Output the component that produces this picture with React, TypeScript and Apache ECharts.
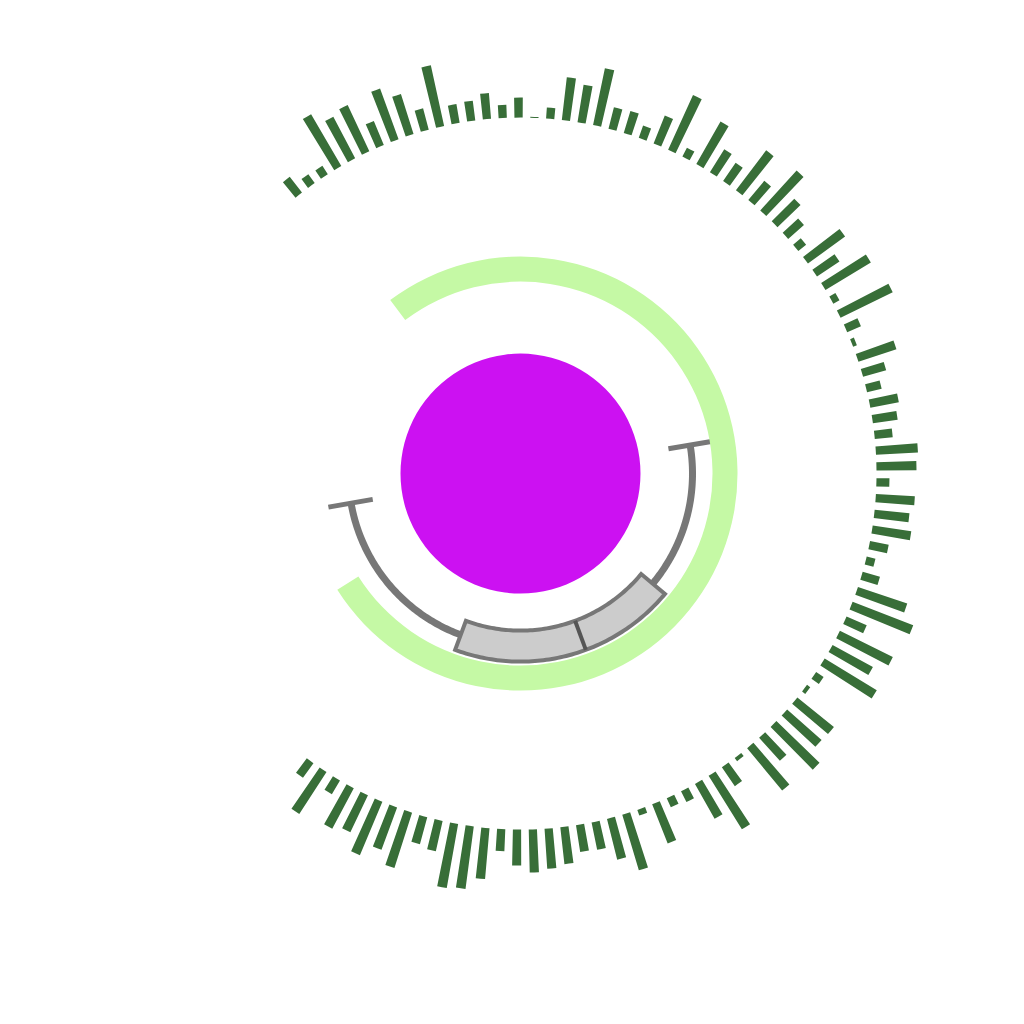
import { useEffect, useRef } from "react";
import * as echarts from "echarts";

// Outer ring: radial bar lengths (clockwise from the top-left start)
const barValues = [
  20, 11, 10, 60, 47, 51, 26, 54, 42, 22,
  62, 19, 20, 26, 13, 20, 1, 11, 43, 38,
  58, 22, 23, 13, 30, 60, 10, 49, 27, 22,
  50, 25, 54, 32, 21, 10, 46, 27, 53, 7,
  58, 15, 4, 40, 24, 15, 29, 25, 18, 42,
  40, 13, 39, 35, 39, 19, 9, 18, 52, 65,
  22, 59, 46, 61, 9, 4, 47, 46, 60, 31,
  55, 4, 23, 63, 40, 12, 10, 42, 6, 58,
  42, 28, 27, 37, 40, 43, 36, 22, 51, 63,
  65, 31, 28, 58, 45, 58, 41, 46, 16, 50,
  18,
];
const barCategories = barValues.map((_, i) => String(i + 1));

// Middle ring: progress arc value (0-100 scale)
const arcCategories = ["arc"];
const arcValues = [76.25];

// Box plot on the same angular scale: [min, Q1, median, Q3, max]
const boxStats = [32.6, 46.3, 54.6, 65.9, 82.5];

// Core disc
const coreNames = ["core"];
const coreValues = [1];

export default function App() {
  const ref = useRef<HTMLDivElement>(null);

  useEffect(() => {
    const chart = echarts.init(ref.current!, null, { renderer: "svg" });
    const CENTER = [520.5, 473.6];
    const hiddenAxis = {
      show: false,
      axisLine: { show: false },
      axisTick: { show: false },
      axisLabel: { show: false },
      splitLine: { show: false },
      splitArea: { show: false },
    };
    const grey = "#777777";

    const renderBox = (_params: any, api: any) => {
      const lo = api.value(0);
      const q1 = api.value(1);
      const med = api.value(2);
      const q3 = api.value(3);
      const hi = api.value(4);
      const R_MID = 22, R_IN = 7, R_OUT = 38, CAP_IN = 0, CAP_OUT = 45;
      const arc = (r: number, a0: number, a1: number) => {
        const pts: number[][] = [];
        const n = 80;
        for (let i = 0; i <= n; i++) {
          pts.push(api.coord([r, a0 + ((a1 - a0) * i) / n]));
        }
        return pts;
      };
      const seg = (r0: number, r1: number, a: number) => {
        const p0 = api.coord([r0, a]);
        const p1 = api.coord([r1, a]);
        return { x1: p0[0], y1: p0[1], x2: p1[0], y2: p1[1] };
      };
      const lineStyle = (w: number, c: string) => ({
        stroke: c,
        lineWidth: w,
        fill: null,
      });
      return {
        type: "group",
        children: [
          {
            type: "polyline",
            shape: { points: arc(R_MID, lo, q1) },
            style: lineStyle(7, grey),
          },
          {
            type: "polyline",
            shape: { points: arc(R_MID, q3, hi) },
            style: lineStyle(7, grey),
          },
          {
            type: "line",
            shape: seg(CAP_IN, CAP_OUT, lo),
            style: lineStyle(5, grey),
          },
          {
            type: "line",
            shape: seg(CAP_IN, CAP_OUT, hi),
            style: lineStyle(5, grey),
          },
          {
            type: "polygon",
            shape: { points: [...arc(R_OUT, q1, q3), ...arc(R_IN, q3, q1)] },
            style: { fill: "#cccccc", stroke: grey, lineWidth: 4 },
          },
          {
            type: "line",
            shape: seg(R_IN, R_OUT, med),
            style: lineStyle(4, "#555555"),
          },
        ],
      };
    };

    chart.setOption({
      animation: false,
      backgroundColor: "#ffffff",
      polar: [
        { center: CENTER, radius: [356, 426] },
        { center: CENTER, radius: [192, 217] },
        { center: CENTER, radius: [150, 195] },
      ],
      angleAxis: [
        {
          ...hiddenAxis,
          polarIndex: 0,
          type: "category",
          data: barCategories,
          startAngle: 129.8,
          endAngle: -127.5,
          clockwise: true,
        },
        {
          ...hiddenAxis,
          polarIndex: 1,
          type: "value",
          min: 0,
          max: 100,
          startAngle: 126.9,
          clockwise: true,
        },
        {
          ...hiddenAxis,
          polarIndex: 2,
          type: "value",
          min: 0,
          max: 100,
          startAngle: 126.9,
          clockwise: true,
        },
      ],
      radiusAxis: [
        { ...hiddenAxis, polarIndex: 0, type: "value", min: 0, max: 70 },
        { ...hiddenAxis, polarIndex: 1, type: "category", data: arcCategories },
        { ...hiddenAxis, polarIndex: 2, type: "value", min: 0, max: 45 },
      ],
      series: [
        {
          type: "pie",
          center: CENTER,
          radius: [0, 120],
          silent: true,
          label: { show: false },
          labelLine: { show: false },
          itemStyle: { color: "#cc11f2", borderWidth: 0 },
          emphasis: { disabled: true },
          data: coreNames.map((n, i) => ({ name: n, value: coreValues[i] })),
        },
        {
          type: "bar",
          coordinateSystem: "polar",
          polarIndex: 0,
          data: barValues,
          barCategoryGap: "48%",
          silent: true,
          itemStyle: { color: "#386e38" },
        },
        {
          type: "bar",
          coordinateSystem: "polar",
          polarIndex: 1,
          data: arcValues,
          barCategoryGap: "0%",
          silent: true,
          itemStyle: { color: "#c5f9a5" },
        },
        {
          type: "custom",
          coordinateSystem: "polar",
          polarIndex: 2,
          silent: true,
          data: [boxStats],
          renderItem: renderBox,
        },
      ],
    });
    return () => chart.dispose();
  }, []);

  return (
    <div
      ref={ref}
      style={{ position: "absolute", left: 0, top: 0, width: 1024, height: 1024 }}
    />
  );
}
